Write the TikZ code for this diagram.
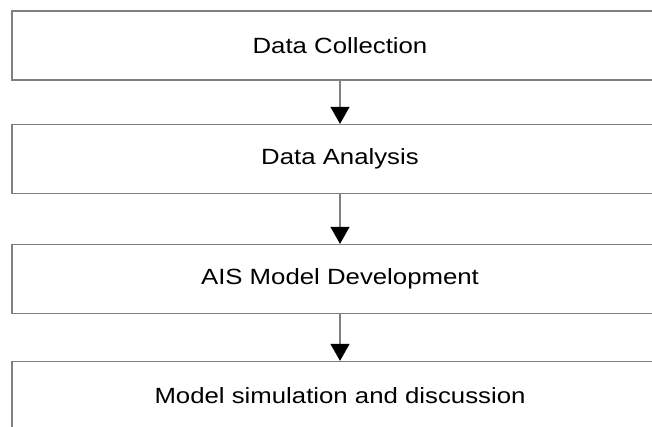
\documentclass[tikz,border=0pt]{standalone}
\usepackage{fontspec}
\newfontfamily\stagefont[FakeStretch=1.17]{Liberation Sans}
\usetikzlibrary{arrows.meta}

\begin{document}
\begin{tikzpicture}[
    x=0.03cm, y=-0.03cm,
    stage/.style={rectangle, draw=gray, line width=1.1pt, minimum width=19.68cm, minimum height=2.07cm, inner sep=0pt, align=center, font=\stagefont\fontsize{18.8}{22}\selectfont},
    arrow/.style={-{Triangle[width=0.57cm, length=0.51cm, color=black]}, draw=gray, line width=1.1pt}
]
    \useasboundingbox (0,0) rectangle (652,427);
    \clip (0,0) rectangle (652,427);

    % Stages
    \node[stage] (collect) at (340,45.5) {Data Collection};
    \node[stage] (analysis) at (340,159) {Data Analysis};
    \node[stage] (model) at (340,279) {AIS Model Development};
    \node[stage] (sim) at (340,396) {Model simulation and discussion};

    % Arrows
    \draw[arrow] (collect) -- (analysis);
    \draw[arrow] (analysis) -- (model);
    \draw[arrow] (model) -- (sim);
\end{tikzpicture}
\end{document}
